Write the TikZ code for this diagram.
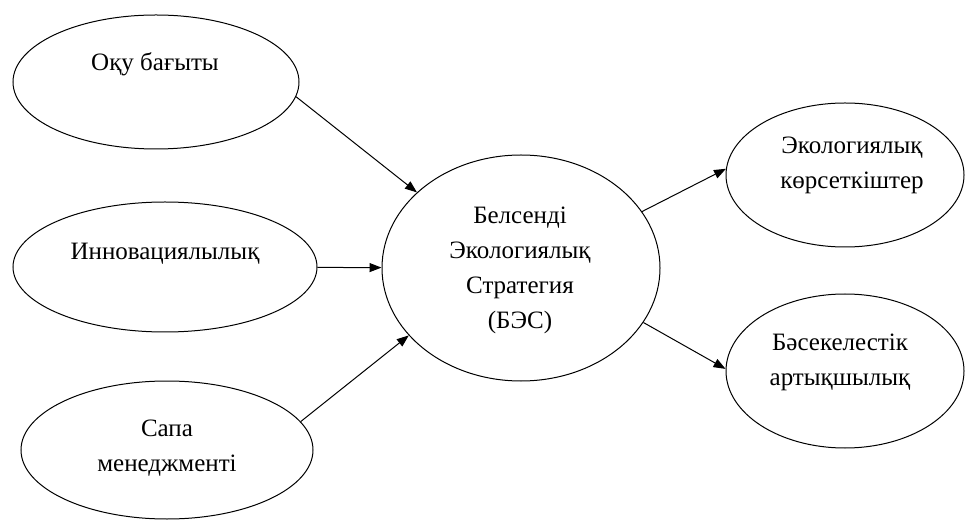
\documentclass[tikz,border=0pt]{standalone}
\usepackage{fontspec}
\setmainfont{Liberation Serif}
\usetikzlibrary{shapes.geometric,arrows.meta}
\begin{document}
\begin{tikzpicture}[x=1pt,y=1pt]
        \useasboundingbox (0,0) rectangle (965,522);

        \begin{scope}[every node/.style={ellipse,draw,line width=1pt,inner sep=0pt}]
          \node[minimum width=286pt,minimum height=134pt] (oqu)   at (156,440) {};
          \node[minimum width=304pt,minimum height=130pt] (innov) at (165,255) {};
          \node[minimum width=292pt,minimum height=138pt] (sapa)  at (167,72)  {};
          \node[minimum width=278pt,minimum height=226pt] (bes)   at (521,254) {};
          \node[minimum width=238pt,minimum height=144pt] (eko)   at (845,347) {};
          \node[minimum width=238pt,minimum height=154pt] (bas)   at (845,151) {};
        \end{scope}

        \begin{scope}[every node/.style={align=center,font=\fontsize{25}{35}\selectfont}]
          \node (toqu)   at (155,458) {Оқу бағыты};
          \node (tinnov) at (165,268) {Инновациялылық};
          \node (tsapa)  at (167,74)  {Сапа\\менеджменті};
          \node (tbes)   at (520,252) {Белсенді\\Экологиялық\\Стратегия\\(БЭС)};
          \node (teko)   at (852,357) {Экологиялық\\көрсеткіштер};
          \node (tbas)   at (840,160) {Бәсекелестік\\артықшылық};
        \end{scope}

        \begin{scope}[every edge/.style={draw,line width=1pt,-{Triangle[length=12pt,width=9pt]}}]
          \path (oqu.-6)   edge (bes.144);
          \path (innov)    edge (bes);
          \path (sapa.12)  edge (bes.211);
          \path (bes.25)   edge (eko.177);
          \path (bes.-24)  edge (bas.179);
        \end{scope}

      \end{tikzpicture}
\end{document}
